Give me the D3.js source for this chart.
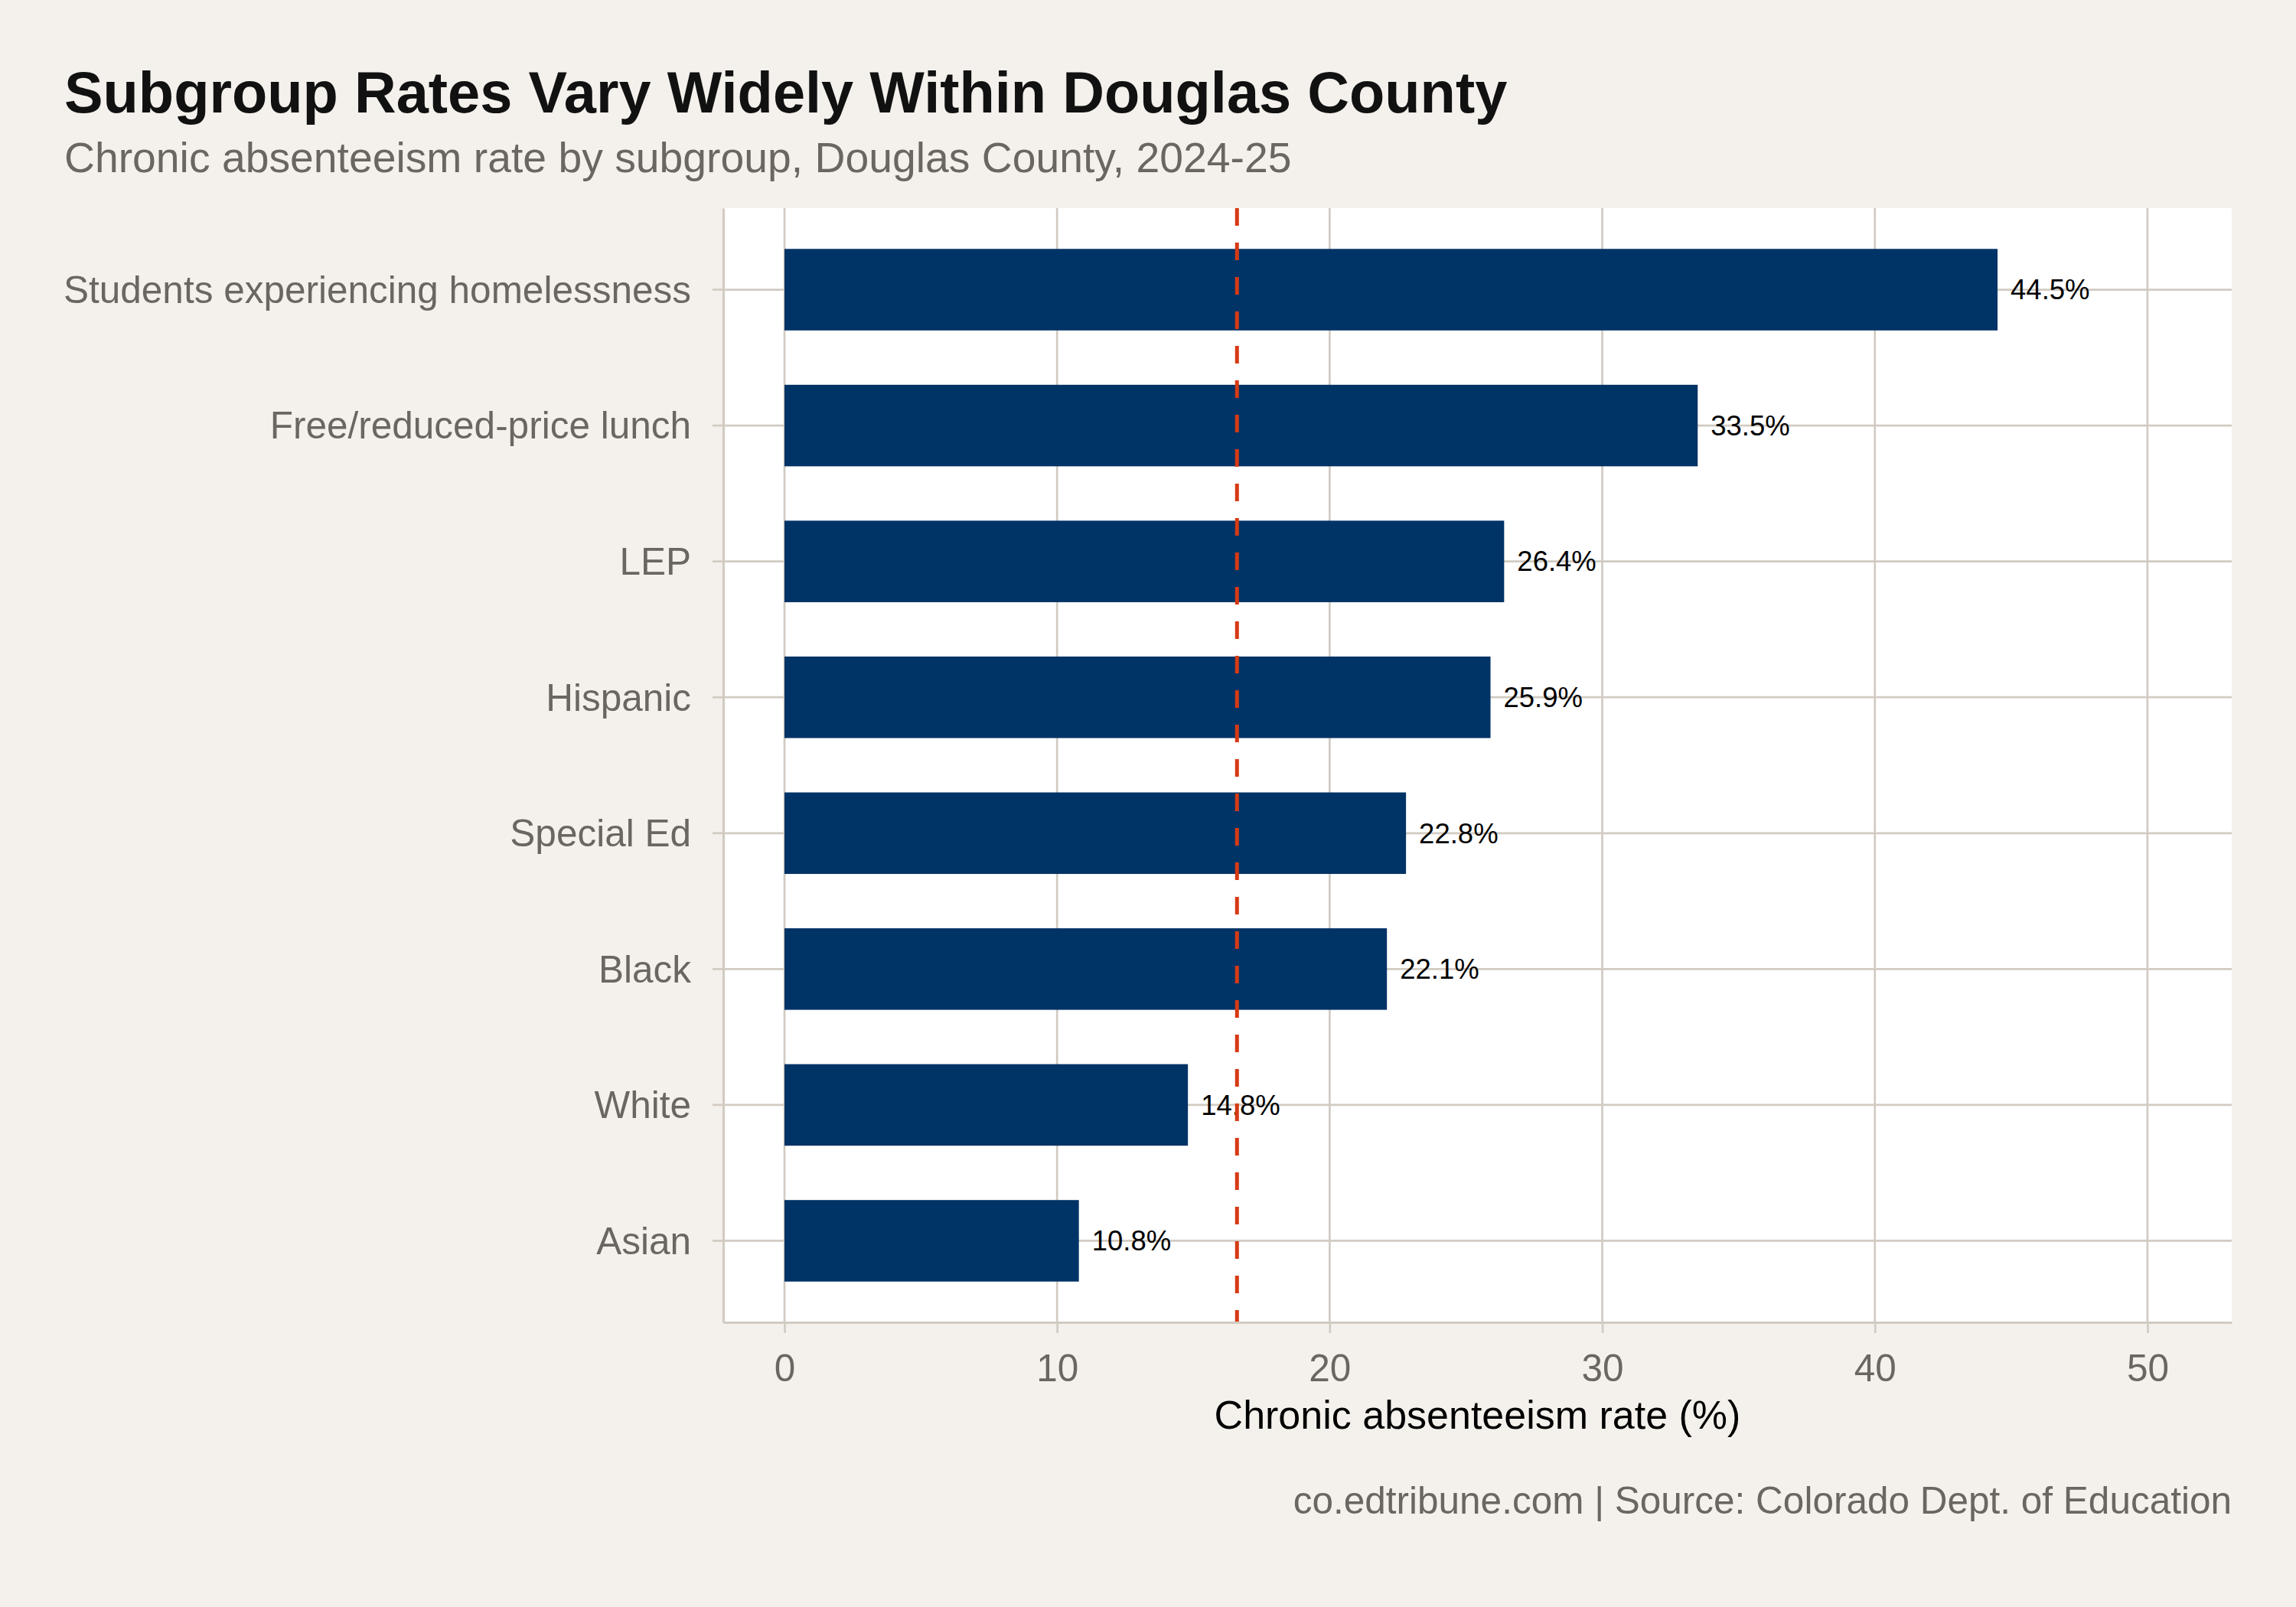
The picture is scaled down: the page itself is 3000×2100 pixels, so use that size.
<!DOCTYPE html>
<html>
<head>
<meta charset="utf-8">
<script src="https://cdn.jsdelivr.net/npm/d3@7"></script>
<style>
    body { margin: 0; background: #f4f1ec; }
    text { font-family: "Liberation Sans", Arial, Helvetica, sans-serif; }
</style>
</head>
<body>
<div id="chart"></div>
<script>
// Subgroups, top to bottom as drawn
const subgroups = [
    "Students experiencing homelessness",
    "Free/reduced-price lunch",
    "LEP",
    "Hispanic",
    "Special Ed",
    "Black",
    "White",
    "Asian"
];
const rates = [44.5, 33.5, 26.4, 25.9, 22.8, 22.1, 14.8, 10.8];
const districtRate = 16.6; // dashed reference line
const xTicks = [0, 10, 20, 30, 40, 50];

const titleText = "Subgroup Rates Vary Widely Within Douglas County";
const subtitleText = "Chronic absenteeism rate by subgroup, Douglas County, 2024-25";
const xTitleText = "Chronic absenteeism rate (%)";
const captionText = "co.edtribune.com | Source: Colorado Dept. of Education";

const data = subgroups.map((s, i) => ({ group: s, rate: rates[i] }));

const width = 3000, height = 2100;
const panel = { left: 945, right: 2916, top: 272, bottom: 1728 };
const gridColor = "#d1cbc2";

const svg = d3.select("#chart").append("svg")
    .attr("width", width)
    .attr("height", height);

svg.append("rect")
    .attr("width", width)
    .attr("height", height)
    .attr("fill", "#f4f1ec");

// scales (ggplot-like expansion on x)
const xScale = d3.scaleLinear()
    .domain([-2.246, 53.09])
    .range([panel.left, panel.right]);

const yScale = d3.scaleBand()
    .domain(subgroups)
    .range([panel.top, panel.bottom])
    .paddingInner(0.4)
    .paddingOuter(0.3);

// panel background
svg.append("rect")
    .attr("x", panel.left)
    .attr("y", panel.top)
    .attr("width", panel.right - panel.left)
    .attr("height", panel.bottom - panel.top)
    .attr("fill", "#ffffff");

// gridlines
svg.append("g").selectAll("line")
    .data(xTicks)
    .enter().append("line")
    .attr("x1", d => xScale(d))
    .attr("x2", d => xScale(d))
    .attr("y1", panel.top)
    .attr("y2", panel.bottom)
    .attr("stroke", gridColor)
    .attr("stroke-width", 2.7);

svg.append("g").selectAll("line")
    .data(subgroups)
    .enter().append("line")
    .attr("x1", panel.left)
    .attr("x2", panel.right)
    .attr("y1", d => yScale(d) + yScale.bandwidth() / 2)
    .attr("y2", d => yScale(d) + yScale.bandwidth() / 2)
    .attr("stroke", gridColor)
    .attr("stroke-width", 2.7);

// bars
svg.append("g").selectAll("rect")
    .data(data)
    .enter().append("rect")
    .attr("x", xScale(0))
    .attr("y", d => yScale(d.group))
    .attr("width", d => xScale(d.rate) - xScale(0))
    .attr("height", yScale.bandwidth())
    .attr("fill", "#003366");

// value labels
svg.append("g").selectAll("text")
    .data(data)
    .enter().append("text")
    .attr("x", d => xScale(d.rate) + 17)
    .attr("y", d => yScale(d.group) + yScale.bandwidth() / 2)
    .attr("dy", "0.35em")
    .attr("font-size", 36.5)
    .attr("fill", "#000000")
    .text(d => d.rate.toFixed(1) + "%");

// reference line
svg.append("line")
    .attr("x1", xScale(districtRate))
    .attr("x2", xScale(districtRate))
    .attr("y1", panel.top)
    .attr("y2", panel.bottom)
    .attr("stroke", "#d63a14")
    .attr("stroke-width", 5)
    .attr("stroke-dasharray", "23,22");

// axes
const xAxis = d3.axisBottom(xScale)
    .tickValues(xTicks)
    .tickSize(14)
    .tickSizeOuter(0)
    .tickPadding(28);

const xg = svg.append("g")
    .attr("transform", `translate(0,${panel.bottom})`)
    .call(xAxis);

const yAxis = d3.axisLeft(yScale)
    .tickSize(14)
    .tickSizeOuter(0)
    .tickPadding(28);

const yg = svg.append("g")
    .attr("transform", `translate(${panel.left},0)`)
    .call(yAxis);

[xg, yg].forEach(g => {
    g.select(".domain").attr("stroke", gridColor).attr("stroke-width", 3.2);
    g.selectAll(".tick line").attr("stroke", gridColor).attr("stroke-width", 2.7);
    g.selectAll(".tick text")
        .attr("fill", "#6b6661")
        .style("font-size", "49.5px")
        .style("font-family", "'Liberation Sans', Arial, sans-serif");
});
yg.selectAll(".tick text").attr("dy", "0.35em");

// titles
svg.append("text")
    .attr("x", 84)
    .attr("y", 147)
    .attr("font-size", 75.8)
    .attr("font-weight", "bold")
    .attr("fill", "#111111")
    .text(titleText);

svg.append("text")
    .attr("x", 84)
    .attr("y", 225)
    .attr("font-size", 55.3)
    .attr("fill", "#6b6661")
    .text(subtitleText);

svg.append("text")
    .attr("x", (panel.left + panel.right) / 2)
    .attr("y", 1867)
    .attr("text-anchor", "middle")
    .attr("font-size", 52)
    .attr("fill", "#000000")
    .text(xTitleText);

svg.append("text")
    .attr("x", panel.right)
    .attr("y", 1978)
    .attr("text-anchor", "end")
    .attr("font-size", 49.5)
    .attr("fill", "#6b6661")
    .text(captionText);
</script>
</body>
</html>
